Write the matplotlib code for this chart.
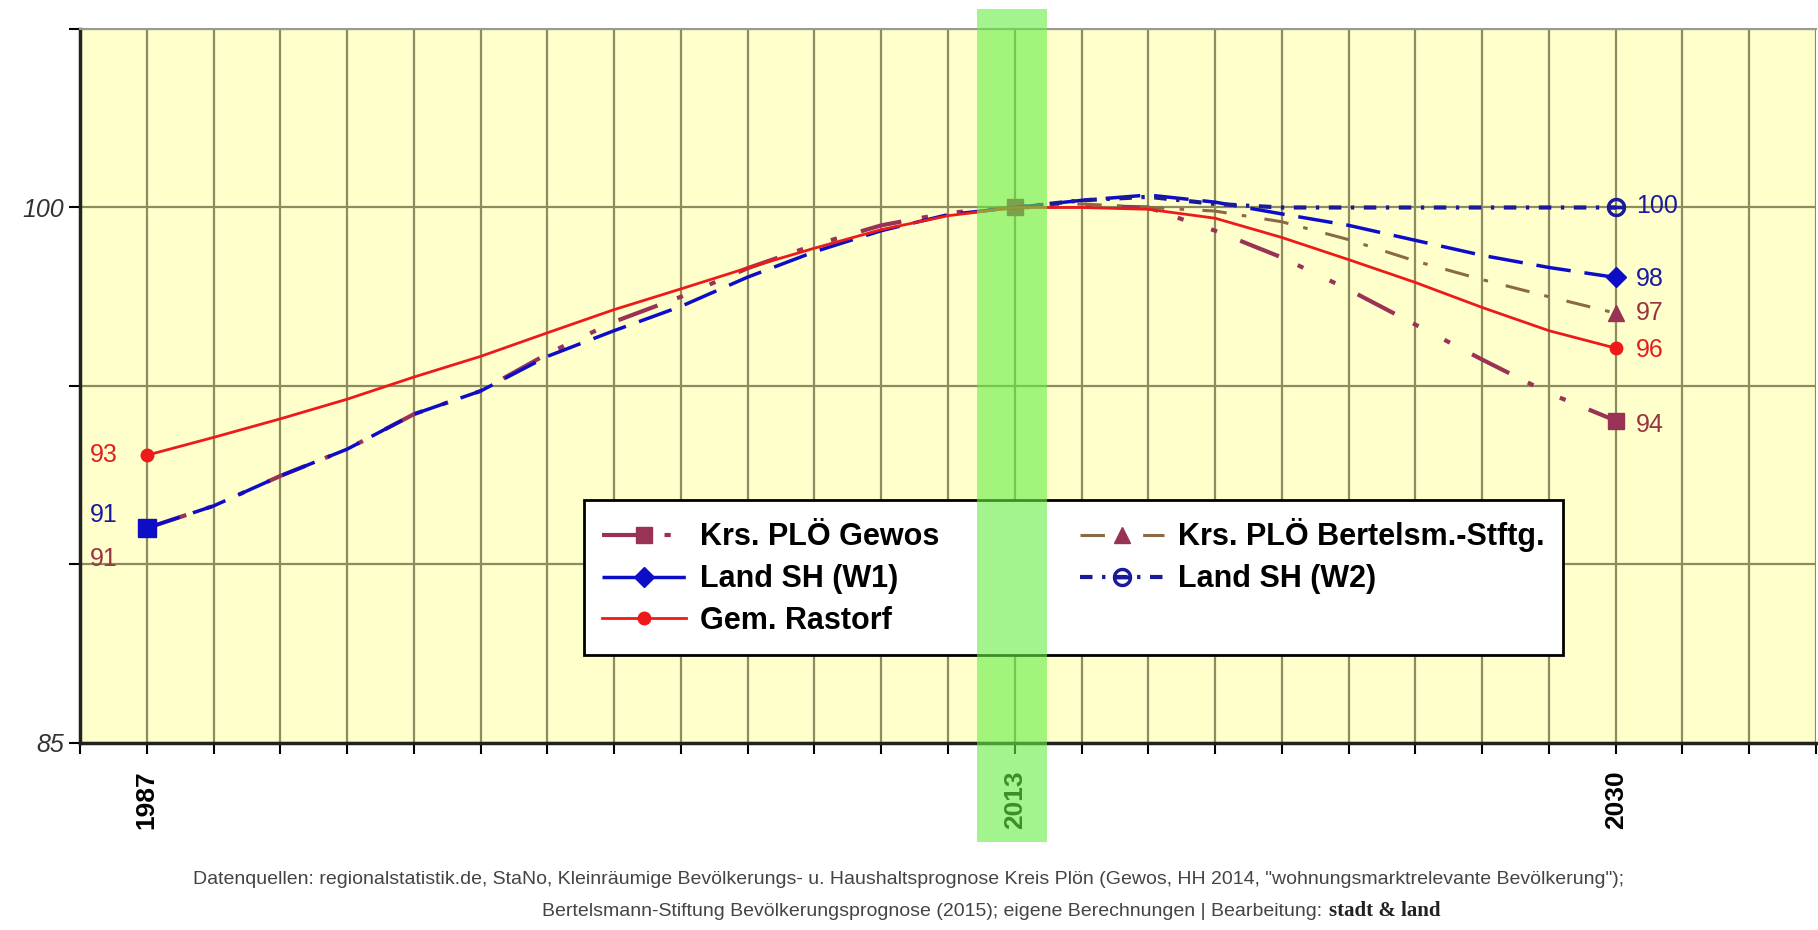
import matplotlib.pyplot as plt
from matplotlib.patches import Rectangle
import numpy as np

plt.rcParams['font.family'] = ['Liberation Sans', 'DejaVu Sans']

# Kategorien der x-Achse (nur 1987, 2013 und 2030 beschriftet)
jahre = ['1987', '1989', '1991', '1993', '1995', '1997', '1999', '2001', '2003',
         '2005', '2007', '2009', '2011', '2013', '2015', '2017', '2019', '2021',
         '2023', '2025', '2027', '2029', '2030']
beschriftet = ['1987', '2013', '2030']

# Index 2013 = 100
rastorf = [93.06, 93.56, 94.08, 94.63, 95.25, 95.83, 96.49, 97.14, 97.72, 98.31,
           98.86, 99.38, 99.77, 100.0, 100.0, 99.95, 99.7, 99.16, 98.54, 97.9,
           97.2, 96.55, 96.06]
gewos = [91.02, 91.64, 92.48, 93.23, 94.21, 94.86, 95.9, 96.8, 97.5, 98.3,
         98.95, 99.5, 99.85, 100.0, 100.05, 100.0, 99.35, 98.6, 97.7, 96.72,
         95.74, 94.8, 94.03]
land_w1 = [91.02, 91.64, 92.48, 93.23, 94.21, 94.86, 95.83, 96.55, 97.23, 98.05,
           98.76, 99.35, 99.8, 100.0, 100.2, 100.35, 100.15, 99.82, 99.5, 99.08,
           98.66, 98.32, 98.04]
# Prognosen ab 2013
land_w2 = [100.0, 100.2, 100.3, 100.1, 100.0, 100.0, 100.0, 100.0, 100.0, 100.0]
bertelsm = [100.0, 100.1, 100.0, 99.9, 99.6, 99.1, 98.5, 97.98, 97.5, 97.04]

werte_links = [('93', 93.06, '#e02020'), ('91', 91.4, '#1a1aa0'), ('91', 90.15, '#993344')]
werte_rechts = [('100', 100.05, '#1a1aa0'), ('98', 98.0, '#1a1aa0'), ('97', 97.04, '#993344'),
                ('96', 96.0, '#e02020'), ('94', 93.9, '#993344')]

rot = '#ee1a1a'
blau = '#0d0dc8'
dunkelblau = '#1a1a9a'
weinrot = '#993355'
oliv = '#8a6a45'

x = np.arange(len(jahre))
i13 = jahre.index('2013')
x_prog = x[i13:]

fig = plt.figure(figsize=(18.18, 9.30), dpi=100)
ax = fig.add_axes([80 / 1818, 187 / 930, 1736 / 1818, 714 / 930])
ax.set_facecolor('#ffffcc')

l_gewos, = ax.plot(x, gewos, color=weinrot, lw=3, dashes=(10, 5, 1.5, 7, 1.5, 6),
                   marker='s', ms=11, markevery=[0, i13, len(x) - 1], zorder=4,
                   label='Krs. PLÖ Gewos')
l_w1, = ax.plot(x, land_w1, color=blau, lw=2.5, dashes=(10, 4),
                marker='D', ms=10, markevery=[len(x) - 1], zorder=5,
                label='Land SH (W1)')
ax.plot(x[0], land_w1[0], 's', color=blau, ms=13, zorder=5)
l_rast, = ax.plot(x, rastorf, color=rot, lw=2, marker='o', ms=9,
                  markevery=[0, len(x) - 1], zorder=6, label='Gem. Rastorf')
l_bert, = ax.plot(x_prog, bertelsm, color=oliv, lw=2.2, dashes=(8, 5, 1.5, 6),
                  marker='^', ms=11, mfc=weinrot, mec=weinrot,
                  markevery=[len(x_prog) - 1], zorder=4,
                  label='Krs. PLÖ Bertelsm.-Stftg.')
l_w2, = ax.plot(x_prog, land_w2, color=dunkelblau, lw=3, dashes=(3, 2.3, 0.8, 2.3),
                marker=r'$\ominus$', ms=13, markevery=[len(x_prog) - 1], zorder=5,
                label='Land SH (W2)')

ax.set_xlim(-1, 25)
ax.set_ylim(85, 105)

xt = np.arange(-1, 26)
ax.set_xticks(xt)
ax.set_xticklabels([jahre[i] if 0 <= i < len(jahre) and jahre[i] in beschriftet else ''
                    for i in xt], rotation=90, fontweight='bold', fontsize=19)
yt = [85, 90, 95, 100, 105]
ax.set_yticks(yt)
ax.set_yticklabels(['85', '', '', '100', ''], fontstyle='italic', fontsize=18,
                   color='#333333')
ax.tick_params(direction='out', length=8, width=1.5, color='black')
ax.tick_params(axis='x', pad=12)

ax.grid(True, color='#8c8c60', lw=1.6, zorder=1)
ax.set_axisbelow(True)

for s in ['left', 'bottom']:
    ax.spines[s].set_linewidth(2.5)
    ax.spines[s].set_color('#222222')
ax.spines['top'].set_color('#999999')
ax.spines['top'].set_linewidth(1.5)
ax.spines['right'].set_visible(False)

for txt, y, c in werte_links:
    ax.text(-0.64, y, txt, color=c, fontsize=18, ha='center', va='center', zorder=7)
for txt, y, c in werte_rechts:
    ax.text(22.3, y, txt, color=c, fontsize=18, ha='left', va='center', zorder=7)

leg = ax.legend(handles=[l_gewos, l_w1, l_rast, l_bert, l_w2], ncol=2,
                loc='upper left', bbox_to_anchor=(0.2903, 0.3403), borderaxespad=0,
                prop={'weight': 'bold', 'size': 22},
                handlelength=2.75, handletextpad=0.46, labelspacing=0.39,
                borderpad=0.6, columnspacing=4.6,
                fancybox=False, framealpha=1, edgecolor='black')
leg.get_frame().set_linewidth(2)
leg.set_zorder(10)

# gruener Balken fuer das Basisjahr 2013
fig.add_artist(Rectangle((977 / 1818, (930 - 842) / 930), 70 / 1818, 833 / 930,
                         transform=fig.transFigure, facecolor='#66ee44',
                         alpha=0.6, edgecolor='none', zorder=20))

fig.text(0.4995, 0.0548,
         'Datenquellen: regionalstatistik.de, StaNo, Kleinräumige Bevölkerungs- u. '
         'Haushaltsprognose Kreis Plön (Gewos, HH 2014, "wohnungsmarktrelevante Bevölkerung");',
         ha='center', va='center', fontsize=14, color='#444444')
fig.text(0.727, 0.0204,
         'Bertelsmann-Stiftung Bevölkerungsprognose (2015); eigene Berechnungen | Bearbeitung:',
         ha='right', va='center', fontsize=14, color='#444444')
fig.text(0.731, 0.0204, 'stadt & land', ha='left', va='center', fontsize=15,
         fontweight='bold', family=['Liberation Serif', 'DejaVu Serif'], color='#222222')

fig.savefig('out.png', dpi=100)
